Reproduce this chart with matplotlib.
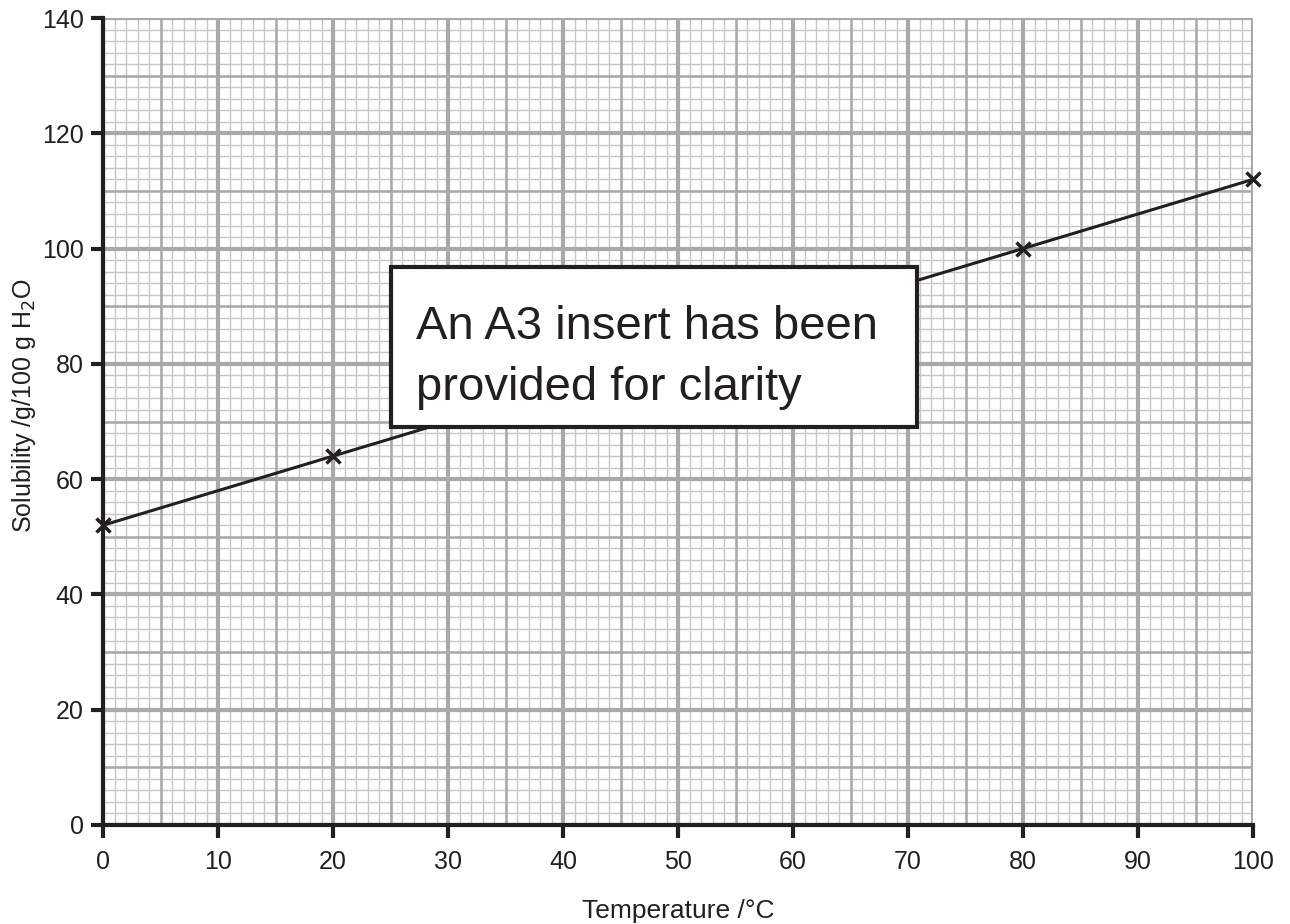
import matplotlib
matplotlib.use("Agg")
import matplotlib.pyplot as plt
from matplotlib.patches import Rectangle
import numpy as np

plt.rcParams['font.family'] = ['Liberation Sans', 'DejaVu Sans']

temperature = [0, 20, 80, 100]
solubility = [52, 64, 100, 112]
x_ticks = list(range(0, 101, 10))
y_ticks = list(range(0, 141, 20))
note_lines = ["An A3 insert has been", "provided for clarity"]

fig = plt.figure(figsize=(12.9, 9.24), dpi=100)
ax = fig.add_axes([103/1290, 1 - 825/924, 1150/1290, 807/924])
ax.set_xlim(0, 100)
ax.set_ylim(0, 140)

minor_c = '#c6c6c8'
major_c = '#a9a9ab'
# minor grid
for x in np.arange(0, 101, 1):
    ax.axvline(x, color=minor_c, lw=1.0, zorder=1)
for y in np.arange(0, 141, 2):
    ax.axhline(y, color=minor_c, lw=1.0, zorder=1)
# medium grid
for x in np.arange(0, 101, 5):
    ax.axvline(x, color=major_c, lw=1.8, zorder=2)
for y in np.arange(0, 141, 10):
    ax.axhline(y, color=major_c, lw=1.8, zorder=2)
# major grid
for x in x_ticks:
    ax.axvline(x, color=major_c, lw=3.0, zorder=3)
for y in y_ticks:
    ax.axhline(y, color=major_c, lw=3.0, zorder=3)

ax.plot(temperature, solubility, color='#231f20', lw=2.2, marker='x', ms=10,
        mew=2.5, zorder=6, clip_on=False)

ax.add_patch(Rectangle((25.05, 69.0), 45.75, 27.8, facecolor='white',
                       edgecolor='#231f20', lw=3, zorder=7))
for line, ypos in zip(note_lines, [84.3, 73.7]):
    ax.text(27.2, ypos, line, fontsize=34, color='#231f20', va='baseline',
            ha='left', zorder=8)

for side in ['top', 'right']:
    ax.spines[side].set_visible(False)
for side in ['left', 'bottom']:
    ax.spines[side].set_color('#231f20')
    ax.spines[side].set_linewidth(3)
    ax.spines[side].set_zorder(9)

ax.set_xticks(x_ticks)
ax.set_yticks(y_ticks)
ax.tick_params(axis='both', length=9, width=3, color='#231f20',
               labelsize=18, labelcolor='#231f20')
ax.tick_params(axis='x', pad=9)
ax.tick_params(axis='y', pad=5)
ax.set_xlabel('Temperature /°C', fontsize=19, color='#231f20', va='baseline')
ax.xaxis.set_label_coords(0.5, (825 - 918) / 807)
ax.set_ylabel('Solubility /g/100 g H$_2$O', fontsize=18, color='#231f20')
ax.yaxis.set_label_coords((38 - 103) / 1150, 0.52)

fig.savefig('out.png', dpi=100)
